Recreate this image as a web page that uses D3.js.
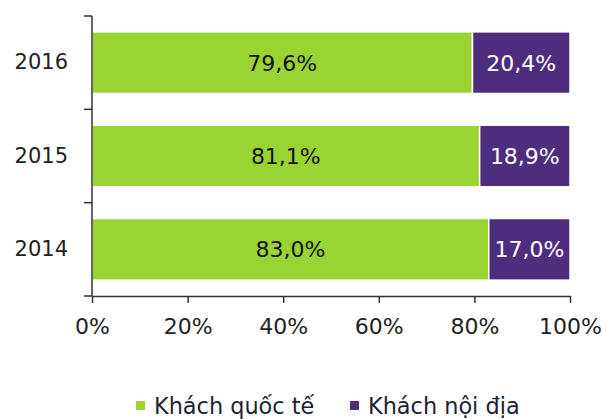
<!DOCTYPE html>
<meta charset="utf-8">
<style>
body { margin: 0; background: #fff; }
text { font-family: "DejaVu Sans", Verdana, sans-serif; }
.axis path, .axis line { stroke: #333; stroke-width: 1.5px; fill: none; }
.axis text { font-size: 22px; fill: #222; }
.yaxis text { font-size: 21px; }
</style>
<svg width="606" height="419"></svg>
<script src="https://d3js.org/d3.v7.min.js"></script>
<script>

var years = ["2016", "2015", "2014"];
var quocTe = [79.6, 81.1, 83.0];
var noiDia = [20.4, 18.9, 17.0];
var seriesNames = ["Khách quốc tế", "Khách nội địa"];
var colors = ["#9ad432", "#4e2c7e"];
var xTicks = [0, 20, 40, 60, 80, 100];

var svg = d3.select("svg"),
    margin = {top: 16, right: 36, bottom: 123, left: 92},
    width = 606 - margin.left - margin.right,
    height = 419 - margin.top - margin.bottom,
    g = svg.append("g").attr("transform", "translate(" + margin.left + "," + margin.top + ")");

var x = d3.scaleLinear().domain([0, 100]).range([0, width]);
var y = d3.scaleBand().domain(years).range([0, height]).paddingInner(0.34).paddingOuter(0.17);

var rows = years.map(function(yr, i) { return {year: yr, a: quocTe[i], b: noiDia[i]}; });
var stack = d3.stack().keys(["a", "b"])(rows);

// bars
stack.forEach(function(layer, k) {
  g.selectAll(".bar" + k)
      .data(layer)
    .enter().append("rect")
      .attr("x", function(d) { return x(d[0]); })
      .attr("y", function(d) { return y(d.data.year); })
      .attr("width", function(d) { return x(d[1]) - x(d[0]); })
      .attr("height", y.bandwidth())
      .attr("fill", colors[k])
      .attr("stroke", "#fff")
      .attr("stroke-width", 1.5);

  g.selectAll(".lab" + k)
      .data(layer)
    .enter().append("text")
      .attr("x", function(d) { return (x(d[0]) + x(d[1])) / 2; })
      .attr("y", function(d) { return y(d.data.year) + y.bandwidth() / 2; })
      .attr("dy", "0.36em")
      .attr("text-anchor", "middle")
      .style("font-size", "22px")
      .attr("fill", k ? "#fff" : "#111")
      .text(function(d) { return (d[1] - d[0]).toFixed(1).replace(".", ",") + "%"; });
});

// axes
var yAxis = d3.axisLeft(y).tickSize(0).tickPadding(24);
g.append("g").attr("class", "axis yaxis").call(yAxis)
  .call(function(a) { a.select(".domain").remove(); });

// y axis line with boundary ticks
var bounds = [0].concat(years.map(function(yr) { return y(yr) + y.bandwidth() + y.step() * y.paddingInner() / 2; }));
bounds[bounds.length - 1] = height;
g.append("line")
    .attr("x1", 0).attr("x2", 0).attr("y1", 0).attr("y2", height)
    .attr("stroke", "#333").attr("stroke-width", 1.5);
g.selectAll(".ytick").data(bounds).enter().append("line")
    .attr("x1", -8).attr("x2", 0)
    .attr("y1", function(d) { return d; }).attr("y2", function(d) { return d; })
    .attr("stroke", "#333").attr("stroke-width", 1.5);

var xAxis = d3.axisBottom(x).tickValues(xTicks).tickSize(7).tickSizeOuter(0).tickPadding(15)
    .tickFormat(function(d) { return d + "%"; });
g.append("g").attr("class", "axis").attr("transform", "translate(0," + height + ")").call(xAxis);

// legend
var legend = svg.append("g").selectAll("g").data(seriesNames).enter().append("g")
    .attr("transform", function(d, i) { return "translate(" + [136, 350][i] + ",406)"; });
legend.append("rect").attr("x", 0).attr("y", -5).attr("width", 9).attr("height", 9)
    .attr("fill", function(d, i) { return colors[i]; });
legend.append("text").attr("x", 18).attr("dy", "0.36em")
    .style("font-size", "22.4px").attr("fill", "#1e2233")
    .text(function(d) { return d; });

</script>
